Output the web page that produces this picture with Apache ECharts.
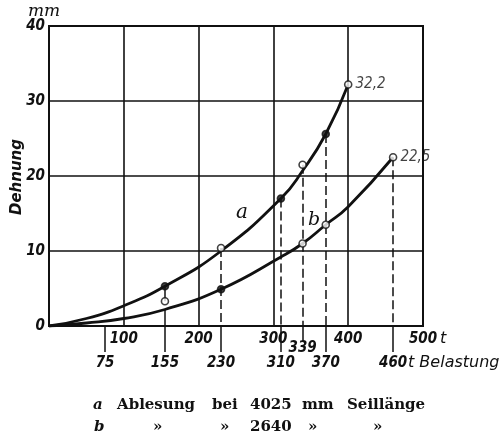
<!DOCTYPE html>
<html>
<head>
<meta charset="utf-8">
<script src="https://cdn.jsdelivr.net/npm/echarts@6/dist/echarts.min.js"></script>
<style>html,body{margin:0;padding:0;background:#fff}#c{width:504px;height:434px}</style>
</head>
<body>
<div id="c"></div>
<script>
// ---- data ----
const yTicks = [0, 10, 20, 30, 40];
const xTicksTop = [100, 200, 300, 400, 500];
const xTicksLoad = [75, 155, 230, 310, 370, 460];
const xTickMid = [339];

const curveA_x = [0, 50, 100, 155, 230, 310, 339, 370, 400];
const curveA_y = [0, 1.0, 2.7, 5.3, 10.0, 17.0, 20.7, 25.6, 32.2];
const curveB_x = [0, 50, 100, 155, 230, 310, 339, 370, 400, 460];
const curveB_y = [0, 0.4, 1.0, 2.2, 4.9, 9.2, 11.0, 13.5, 15.9, 22.5];

const ptsA_x = [155, 230, 310, 339, 370, 400];
const ptsA_y = [5.3, 10.4, 17.0, 21.5, 25.6, 32.2];
const ptsA_filled = [1, 0, 1, 0, 1, 0];
const ptsB_x = [230, 339, 370, 460];
const ptsB_y = [4.9, 11.0, 13.5, 22.5];
const ptsB_filled = [1, 0, 0, 0];
const outlier_x = [155];
const outlier_y = [3.3];

const legendRow1 = ['a', 'Ablesung', 'bei', '4025', 'mm', 'Seillänge'];
const legendRow2 = ['b', '»', '»', '2640', '»', '»'];

// ---- build ----
const zip = (xs, ys) => xs.map((x, i) => [x, ys[i]]);
const numFont = "'DejaVu Sans Condensed', 'DejaVu Sans', sans-serif";
const fmt = v => v.toFixed(1).replace('.', ',');

const dashedDrops = [];
[1, 2, 3, 4].forEach(i => dashedDrops.push([{coord: [ptsA_x[i], ptsA_y[i]]}, {coord: [ptsA_x[i], 0]}]));
dashedDrops.push([{coord: [ptsB_x[3], ptsB_y[3]]}, {coord: [ptsB_x[3], 0]}]);
const bAt155 = curveB_y[curveB_x.indexOf(155)];
const solidDrops = [
  [{coord: [outlier_x[0], ptsA_y[0]]}, {coord: [outlier_x[0], outlier_y[0]]}],
  [{coord: [outlier_x[0], bAt155]}, {coord: [outlier_x[0], 0]}]
];

const chart = echarts.init(document.getElementById('c'), null, {renderer: 'canvas'});

const baseX = {type: 'value', min: 0, max: 500, interval: 100, gridIndex: 0, position: 'bottom'};

function pointSeries(xs, ys, filled, endLabel) {
  return {
    type: 'scatter', symbol: 'circle', symbolSize: 7, z: 5,
    data: zip(xs, ys).map((d, i) => ({
      value: d,
      itemStyle: {color: filled[i] ? '#111' : '#fff', borderColor: '#111', borderWidth: 1.6},
      label: {show: endLabel && i === xs.length - 1}
    })),
    label: {
      position: 'right', distance: 3, color: '#111',
      fontFamily: numFont, fontStyle: 'italic', fontSize: 15,
      formatter: p => fmt(p.value[1])
    },
    silent: true
  };
}

const gText = (text, x, y, font, extra) => Object.assign({
  type: 'text', x: x, y: y, silent: true,
  style: {text: text, font: font, fill: '#111', textAlign: 'left', textVerticalAlign: 'middle'}
}, extra || {});

const row1X = [93, 117, 212, 250, 302, 347];
const row2X = [94, 153, 220, 250, 308, 373];
const serifB = "bold 15px 'DejaVu Serif', serif";
const serifBI = "italic bold 15px 'DejaVu Serif', serif";
const graphics = [];
legendRow1.forEach((t, i) => graphics.push(gText(t, row1X[i], 405, i === 0 ? serifBI : serifB)));
legendRow2.forEach((t, i) => graphics.push(gText(t, row2X[i], 427, i === 0 ? serifBI : serifB)));
graphics.push({type: 'text', x: 44, y: 12, silent: true,
  style: {text: 'mm', font: "italic 17px 'DejaVu Serif', serif", fill: '#111', textAlign: 'center', textVerticalAlign: 'middle'}});
graphics.push({type: 'text', x: 17, y: 177, rotation: Math.PI / 2, silent: true,
  style: {text: 'Dehnung', font: "italic bold 15px 'DejaVu Sans', sans-serif", fill: '#111', textAlign: 'center', textVerticalAlign: 'middle'}});
graphics.push(gText('t', 440, 339, "italic 16px 'DejaVu Sans', sans-serif"));
graphics.push(gText('t Belastung', 408, 363, "italic 16px 'DejaVu Sans', sans-serif"));
graphics.push(gText('a', 236, 213, "italic 20px 'DejaVu Serif', serif"));
graphics.push(gText('b', 308, 220, "italic 19px 'DejaVu Serif', serif"));

const labelStyle = {color: '#111', fontFamily: numFont, fontStyle: 'italic', fontWeight: 'bold', fontSize: 15};

chart.setOption({
  animation: false,
  backgroundColor: '#fff',
  grid: {left: 49, right: 81, top: 26, bottom: 108, show: true, borderColor: '#111', borderWidth: 2, backgroundColor: 'transparent'},
  xAxis: [
    Object.assign({}, baseX, {
      axisLine: {show: true, lineStyle: {color: '#111', width: 2}},
      axisTick: {show: false},
      splitLine: {show: true, lineStyle: {color: '#111', width: 1.6}},
      axisLabel: Object.assign({margin: 6, customValues: xTicksTop, formatter: v => String(v)}, labelStyle)
    }),
    Object.assign({}, baseX, {
      axisLine: {show: false}, splitLine: {show: false},
      axisTick: {show: true, customValues: xTicksLoad, length: 26, inside: false, lineStyle: {color: '#111', width: 1.5}},
      axisLabel: Object.assign({margin: 30, customValues: xTicksLoad, formatter: v => String(v)}, labelStyle)
    }),
    Object.assign({}, baseX, {
      axisLine: {show: false}, splitLine: {show: false},
      axisTick: {show: true, customValues: xTickMid, length: 15, inside: false, lineStyle: {color: '#111', width: 1.5}},
      axisLabel: Object.assign({margin: 15, customValues: xTickMid, formatter: v => String(v)}, labelStyle)
    })
  ],
  yAxis: {
    type: 'value', min: 0, max: 40, interval: 10,
    axisLine: {show: true, lineStyle: {color: '#111', width: 2}},
    axisTick: {show: false},
    splitLine: {show: true, lineStyle: {color: '#111', width: 1.6}},
    axisLabel: Object.assign({margin: 4, formatter: v => yTicks.indexOf(v) >= 0 ? String(v) : ''}, labelStyle)
  },
  series: [
    {type: 'line', data: zip(curveA_x, curveA_y), smooth: 0.5, showSymbol: false,
      lineStyle: {color: '#111', width: 2.8}, z: 3, silent: true,
      markLine: {silent: true, symbol: ['none', 'none'], label: {show: false}, animation: false,
        lineStyle: {color: '#111', width: 1.5, type: [9, 4]}, data: dashedDrops}},
    {type: 'line', data: zip(curveB_x, curveB_y), smooth: 0.5, showSymbol: false,
      lineStyle: {color: '#111', width: 2.8}, z: 3, silent: true,
      markLine: {silent: true, symbol: ['none', 'none'], label: {show: false}, animation: false,
        lineStyle: {color: '#111', width: 1.5, type: 'solid'}, data: solidDrops}},
    pointSeries(ptsA_x, ptsA_y, ptsA_filled, true),
    pointSeries(ptsB_x, ptsB_y, ptsB_filled, true),
    pointSeries(outlier_x, outlier_y, [0], false)
  ],
  graphic: graphics
});
</script>
</body>
</html>
